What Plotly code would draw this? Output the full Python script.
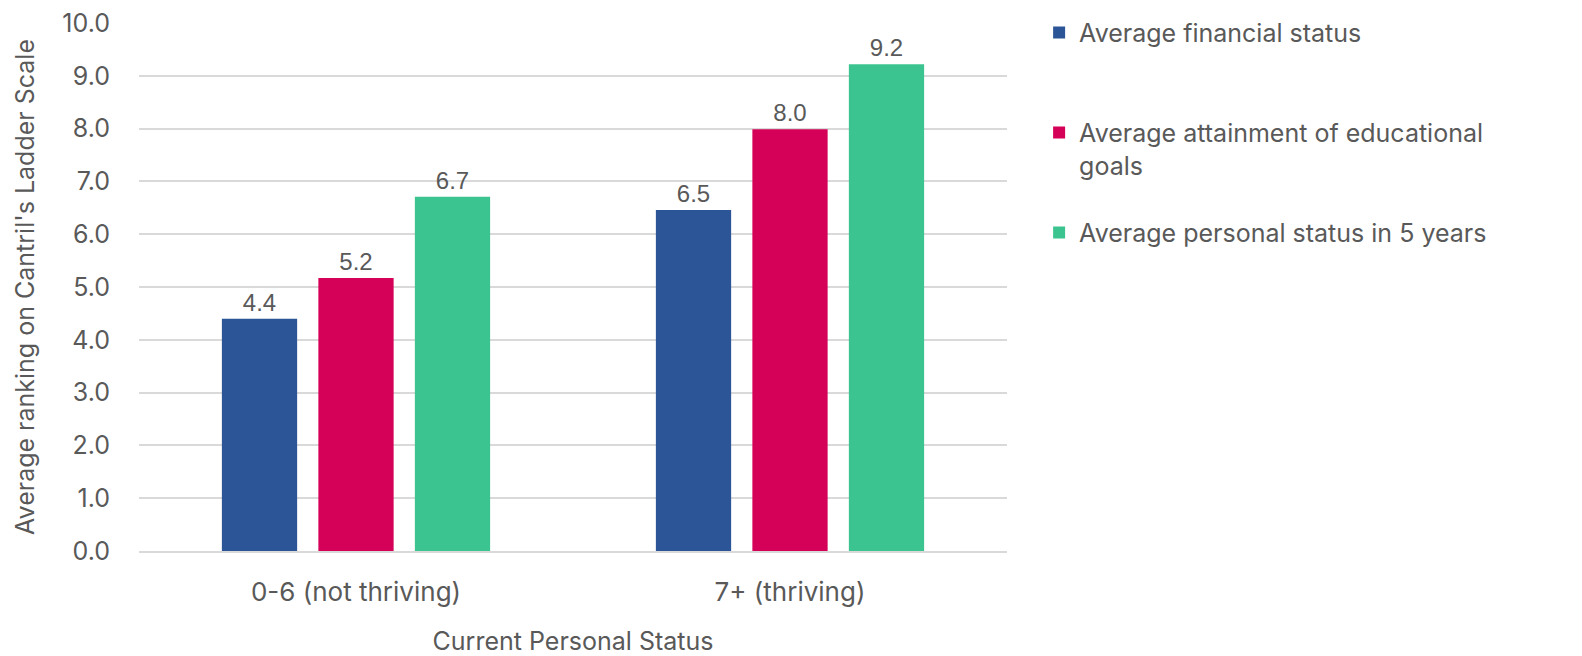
import plotly.graph_objects as go

categories = ["0-6 (not thriving)", "7+ (thriving)"]
series_names = [
    "Average financial status<br> ",
    "Average attainment of educational<br>goals",
    "Average personal status in 5 years",
]
financial = [4.4, 6.46]
education = [5.17, 7.99]
personal = [6.71, 9.22]
colors = ["#2B5597", "#D50057", "#3CC490"]

y_ticks = [0, 1, 2, 3, 4, 5, 6, 7, 8, 9, 10]
y_ticktext = [f"{v:.1f}" for v in y_ticks]

FONT = "Inter, Lato, sans-serif"
GRAY = "#595959"

fig = go.Figure()
for name, vals, col in zip(series_names, [financial, education, personal], colors):
    fig.add_trace(go.Bar(
        x=categories, y=vals, name=name,
        marker=dict(color=col, line=dict(width=0)),
        texttemplate="%{y:.1f}", textposition="outside",
        textfont=dict(family="Liberation Sans, Arial, sans-serif", size=24, color=GRAY),
        cliponaxis=False,
        legendgroup=name,
    ))

fig.update_layout(
    width=1582, height=656,
    margin=dict(l=139, r=575, t=23, b=105, autoexpand=False),
    paper_bgcolor="white", plot_bgcolor="white",
    barmode="group", bargap=0.333, bargroupgap=0.22,
    font=dict(family=FONT, size=25, color=GRAY),
    showlegend=True,
    legend=dict(
        x=1.037, xanchor="left", y=1.025, yanchor="top",
        xref="paper", yref="paper",
        font=dict(family=FONT, size=25, color=GRAY),
        valign="top", tracegroupgap=32, itemwidth=30,
        bgcolor="rgba(0,0,0,0)",
    ),
    xaxis=dict(
        showgrid=False, showline=True, linecolor="#d9d9d9", linewidth=1.5,
        ticks="", tickfont=dict(family=FONT, size=26, color=GRAY),
        ticklabelstandoff=17,
        title=dict(text="Current Personal Status", font=dict(family=FONT, size=25, color=GRAY), standoff=28),
    ),
    yaxis=dict(
        range=[0, 10], tickvals=y_ticks, ticktext=y_ticktext,
        showgrid=True, gridcolor="#d9d9d9", gridwidth=1.5,
        zeroline=False, showline=False, ticks="",
        tickfont=dict(family=FONT, size=25, color=GRAY),
        ticklabelstandoff=28,
        title=dict(text="Average ranking on Cantril's Ladder Scale", font=dict(family=FONT, size=25, color=GRAY), standoff=20),
    ),
)

fig.write_html("out.html")
